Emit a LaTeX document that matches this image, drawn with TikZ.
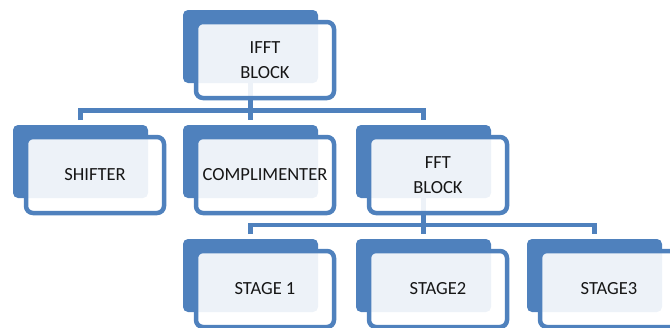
\documentclass[tikz,border=0pt]{standalone}
\usepackage{fontspec}
\setmainfont{Carlito}
\usetikzlibrary{calc}
\definecolor{accent}{HTML}{4F81BD}
\definecolor{ink}{HTML}{161616}
\begin{document}
\begin{tikzpicture}[x=1pt,y=1pt,
  backbox/.style={fill=accent, draw=none, rounded corners=5pt, inner sep=0pt, outer sep=0pt,
    minimum width=135pt, minimum height=73pt},
  frontbox/.style={draw=accent, line width=4.5pt, fill=white, fill opacity=0.9, text opacity=1,
    rounded corners=7pt, inner sep=0pt, outer sep=0pt, minimum width=138pt, minimum height=76pt,
    text=ink, align=center, font=\fontsize{18.5}{25}\selectfont},
  conn/.style={draw=accent, line width=4.5pt}]
\useasboundingbox (0,0) rectangle (670,-327);

% shadow plates behind each box
\node[backbox] (ifftbk)  at (250.5,-46.5) {};
\node[backbox] (shiftbk) at (80.5,-161.5) {};
\node[backbox] (compbk)  at (250.5,-161.5) {};
\node[backbox] (fftbk)   at (423.5,-161.5) {};
\node[backbox] (st1bk)   at (250.5,-275.5) {};
\node[backbox] (st2bk)   at (423.5,-275.5) {};
\node[backbox] (st3bk)   at (594.5,-275.5) {};

% tree connectors
\draw[conn] (ifftbk.center) -- ([yshift=5pt]compbk.north);
\draw[conn] ([yshift=5pt]shiftbk.north) |- ([yshift=14.5pt]compbk.north) -| ([yshift=5pt]fftbk.north);
\draw[conn] (fftbk.center) -- ([yshift=5pt]st2bk.north);
\draw[conn] ([yshift=5pt]st1bk.north) |- ([yshift=14pt]st2bk.north) -| ([yshift=5pt]st3bk.north);

% labelled front boxes
\node[frontbox] (ifft)  at (265,-60)  {IFFT\\BLOCK};
\node[frontbox] (shift) at (95,-175)  {SHIFTER};
\node[frontbox] (comp)  at (265,-175) {COMPLIMENTER};
\node[frontbox] (fft)   at (438,-175) {FFT\\BLOCK};
\node[frontbox] (st1)   at (265,-289) {STAGE 1};
\node[frontbox] (st2)   at (438,-289) {STAGE2};
\node[frontbox] (st3)   at (609,-289) {STAGE3};
\end{tikzpicture}
\end{document}
